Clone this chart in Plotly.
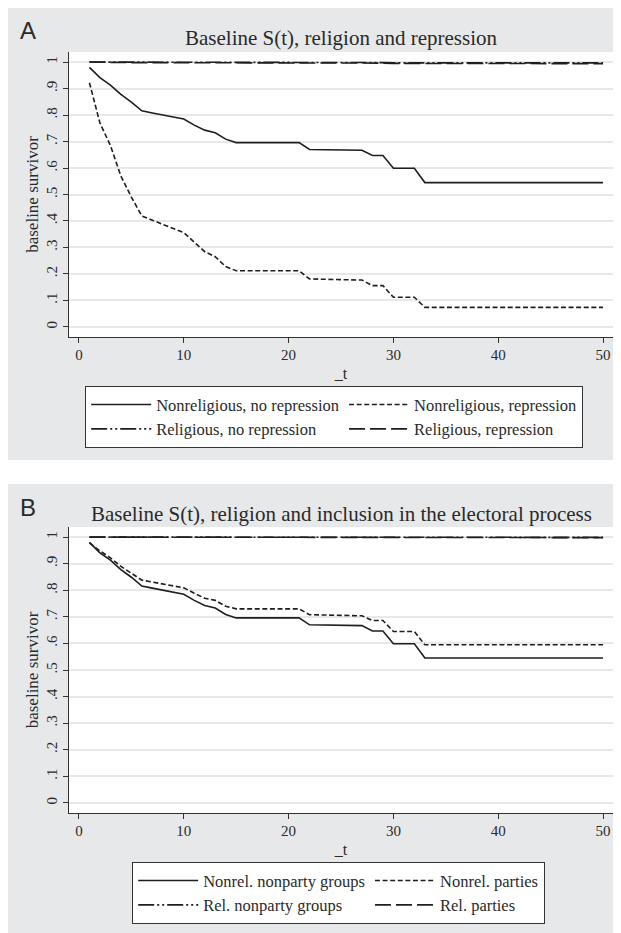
import plotly.graph_objects as go

# page body has an 8px margin: figure is 613x925 placed at (8, 8)
W, H = 613, 925
OFF = 8

t = list(range(1, 51))

# Panel A: religion and repression
nonrel_norep = [0.980, 0.941, 0.913, 0.878, 0.849, 0.816, 0.808, 0.800, 0.792, 0.785,
                0.762, 0.743, 0.733, 0.709, 0.696, 0.696, 0.696, 0.696, 0.696, 0.696,
                0.696, 0.670, 0.669, 0.669, 0.668, 0.668, 0.667, 0.647, 0.647, 0.599,
                0.599, 0.599, 0.545, 0.545, 0.545, 0.545, 0.545, 0.545, 0.545, 0.545,
                0.545, 0.545, 0.545, 0.545, 0.545, 0.545, 0.545, 0.545, 0.545, 0.545]
nonrel_rep = [0.922, 0.770, 0.685, 0.570, 0.490, 0.419, 0.403, 0.387, 0.372, 0.356,
              0.320, 0.284, 0.265, 0.228, 0.212, 0.212, 0.212, 0.212, 0.212, 0.212,
              0.212, 0.181, 0.180, 0.179, 0.178, 0.178, 0.177, 0.156, 0.156, 0.112,
              0.112, 0.112, 0.074, 0.074, 0.074, 0.074, 0.074, 0.074, 0.074, 0.074,
              0.074, 0.074, 0.074, 0.074, 0.074, 0.074, 0.074, 0.074, 0.074, 0.074]
rel_norep = [1.000, 1.000, 1.000, 0.999, 0.999, 0.999, 0.999, 0.999, 0.999, 0.999,
             0.999, 0.999, 0.999, 0.998, 0.998, 0.998, 0.998, 0.998, 0.998, 0.998,
             0.998, 0.998, 0.998, 0.998, 0.998, 0.998, 0.998, 0.998, 0.998, 0.997,
             0.997, 0.997, 0.997, 0.997, 0.997, 0.997, 0.997, 0.997, 0.997, 0.997,
             0.997, 0.997, 0.997, 0.997, 0.997, 0.997, 0.997, 0.997, 0.997, 0.997]
rel_rep = [1.000, 0.999, 0.999, 0.999, 0.998, 0.998, 0.998, 0.998, 0.998, 0.998,
           0.997, 0.997, 0.997, 0.997, 0.997, 0.997, 0.997, 0.997, 0.997, 0.997,
           0.997, 0.996, 0.996, 0.996, 0.996, 0.996, 0.996, 0.996, 0.996, 0.995,
           0.995, 0.995, 0.994, 0.994, 0.994, 0.994, 0.994, 0.994, 0.994, 0.994,
           0.994, 0.994, 0.994, 0.994, 0.994, 0.994, 0.994, 0.994, 0.994, 0.994]

# Panel B: religion and inclusion in the electoral process
nonrel_nonparty = [0.980, 0.941, 0.913, 0.878, 0.849, 0.816, 0.808, 0.800, 0.792, 0.785,
                   0.762, 0.743, 0.733, 0.709, 0.696, 0.696, 0.696, 0.696, 0.696, 0.696,
                   0.696, 0.670, 0.669, 0.669, 0.668, 0.668, 0.667, 0.647, 0.647, 0.599,
                   0.599, 0.599, 0.545, 0.545, 0.545, 0.545, 0.545, 0.545, 0.545, 0.545,
                   0.545, 0.545, 0.545, 0.545, 0.545, 0.545, 0.545, 0.545, 0.545, 0.545]
nonrel_parties = [0.978, 0.948, 0.922, 0.890, 0.864, 0.838, 0.831, 0.824, 0.816, 0.809,
                  0.789, 0.770, 0.762, 0.740, 0.730, 0.730, 0.730, 0.730, 0.730, 0.730,
                  0.730, 0.708, 0.707, 0.706, 0.705, 0.705, 0.704, 0.686, 0.686, 0.645,
                  0.645, 0.645, 0.595, 0.595, 0.595, 0.595, 0.595, 0.595, 0.595, 0.595,
                  0.595, 0.595, 0.595, 0.595, 0.595, 0.595, 0.595, 0.595, 0.595, 0.595]
rel_nonparty = [1.000, 1.000, 1.000, 1.000, 1.000, 1.000, 1.000, 1.000, 1.000, 1.000,
                1.000, 1.000, 0.999, 0.999, 0.999, 0.999, 0.999, 0.999, 0.999, 0.999,
                0.999, 0.999, 0.999, 0.999, 0.999, 0.999, 0.999, 0.999, 0.999, 0.999,
                0.999, 0.999, 0.999, 0.999, 0.999, 0.999, 0.999, 0.999, 0.999, 0.999,
                0.999, 0.999, 0.999, 0.999, 0.999, 0.999, 0.999, 0.999, 0.999, 0.999]
rel_parties = [1.000, 1.000, 1.000, 1.000, 1.000, 1.000, 1.000, 1.000, 1.000, 0.999,
               0.999, 0.999, 0.999, 0.999, 0.999, 0.999, 0.999, 0.999, 0.999, 0.999,
               0.999, 0.999, 0.999, 0.999, 0.999, 0.999, 0.999, 0.999, 0.999, 0.999,
               0.999, 0.999, 0.998, 0.998, 0.998, 0.998, 0.998, 0.998, 0.998, 0.998,
               0.998, 0.998, 0.998, 0.998, 0.998, 0.998, 0.998, 0.998, 0.998, 0.998]

y_tickvals = [0, 0.1, 0.2, 0.3, 0.4, 0.5, 0.6, 0.7, 0.8, 0.9, 1]
y_ticktext = ["0", ".1", ".2", ".3", ".4", ".5", ".6", ".7", ".8", ".9", "1"]
x_tickvals = [0, 10, 20, 30, 40, 50]

title_a = "Baseline S(t), religion and repression"
title_b = "Baseline S(t), religion and inclusion in the electoral process"

SERIF = "Liberation Serif, Times New Roman, serif"
SANS = "Liberation Sans, Arial, sans-serif"
INK = "#1e1e1e"
TXT = "#2a2a2a"
PANEL = "#e7e8ea"

dash_solid = "solid"
dash_short = "5px,2.6px"
dash_ldd = "16px,3px,2px,3px,2px,3px"
dash_long = "16px,5px"

fig = go.Figure()

series_a = [("Nonreligious, no repression", nonrel_norep, dash_solid),
            ("Nonreligious, repression", nonrel_rep, dash_short),
            ("Religious, no repression", rel_norep, dash_ldd),
            ("Religious, repression", rel_rep, dash_long)]
series_b = [("Nonrel. nonparty groups", nonrel_nonparty, dash_solid),
            ("Nonrel. parties", nonrel_parties, dash_short),
            ("Rel. nonparty groups", rel_nonparty, dash_ldd),
            ("Rel. parties", rel_parties, dash_long)]

for name, vals, dash in series_a:
    fig.add_trace(go.Scatter(x=t, y=vals, mode="lines", name=name,
                             line=dict(color=INK, width=1.6, dash=dash),
                             xaxis="x", yaxis="y", legend="legend"))
for name, vals, dash in series_b:
    fig.add_trace(go.Scatter(x=t, y=vals, mode="lines", name=name,
                             line=dict(color=INK, width=1.6, dash=dash),
                             xaxis="x2", yaxis="y2", legend="legend2"))


def py(p):
    return 1 - (p - OFF) / H


def pxx(p):
    return (p - OFF) / W


xdom = [pxx(69), pxx(613)]
ya_dom = [py(337), py(52)]
yb_dom = [py(813), py(527)]

axis_common = dict(showline=True, linecolor="#333333", linewidth=1.3,
                   ticks="outside", ticklen=5, tickwidth=1.2, tickcolor="#333333",
                   zeroline=False, automargin=False,
                   tickfont=dict(family=SERIF, size=15, color=TXT))

xa = dict(axis_common, domain=xdom, range=[-0.95, 50.95], tickvals=x_tickvals,
          showgrid=False, ticklabelstandoff=-1,
          title=dict(text="_t", font=dict(family=SERIF, size=16, color=TXT), standoff=5))
ya = dict(axis_common, range=[-0.038, 1.038], tickvals=y_tickvals, ticktext=y_ticktext,
          tickangle=-90, showgrid=True, gridcolor="#e8e8e8", gridwidth=1.6,
          ticklabelstandoff=0,
          title=dict(text="baseline survivor", font=dict(family=SERIF, size=17, color=TXT), standoff=0))

legend_common = dict(xanchor="left", yanchor="top", orientation="h",
                     bgcolor="white", bordercolor="#333333", borderwidth=1.2,
                     font=dict(family=SERIF, size=16.5, color=TXT),
                     itemwidth=60, entrywidth=0, traceorder="normal")

fig.update_layout(
    width=W, height=H,
    margin=dict(l=0, r=0, t=0, b=0, autoexpand=False),
    paper_bgcolor=PANEL, plot_bgcolor="white",
    font=dict(family=SERIF, color=TXT),
    xaxis=dict(xa, anchor="y"),
    yaxis=dict(ya, domain=ya_dom, anchor="x"),
    xaxis2=dict(xa, anchor="y2"),
    yaxis2=dict(ya, domain=yb_dom, anchor="x2"),
    legend=dict(legend_common, x=pxx(85), y=py(386)),
    legend2=dict(legend_common, x=pxx(132), y=py(862)),
    showlegend=True,
)

# white gap between the two gray panels
fig.add_shape(type="rect", xref="paper", yref="paper",
              x0=0, x1=1, y0=py(484), y1=py(460),
              fillcolor="white", line=dict(width=0), layer="below")

annots = [
    (title_a, 341, 38, SERIF, 21),
    (title_b, 341, 514, SERIF, 21),
    ("A", 28, 31, SANS, 24),
    ("B", 28, 507, SANS, 24),
]
for text, x, y, fam, size in annots:
    fig.add_annotation(text=text, x=pxx(x), y=py(y), xref="paper", yref="paper",
                       xanchor="center", yanchor="middle", showarrow=False,
                       font=dict(family=fam, size=size, color=TXT))

fig.write_html("out.html")
